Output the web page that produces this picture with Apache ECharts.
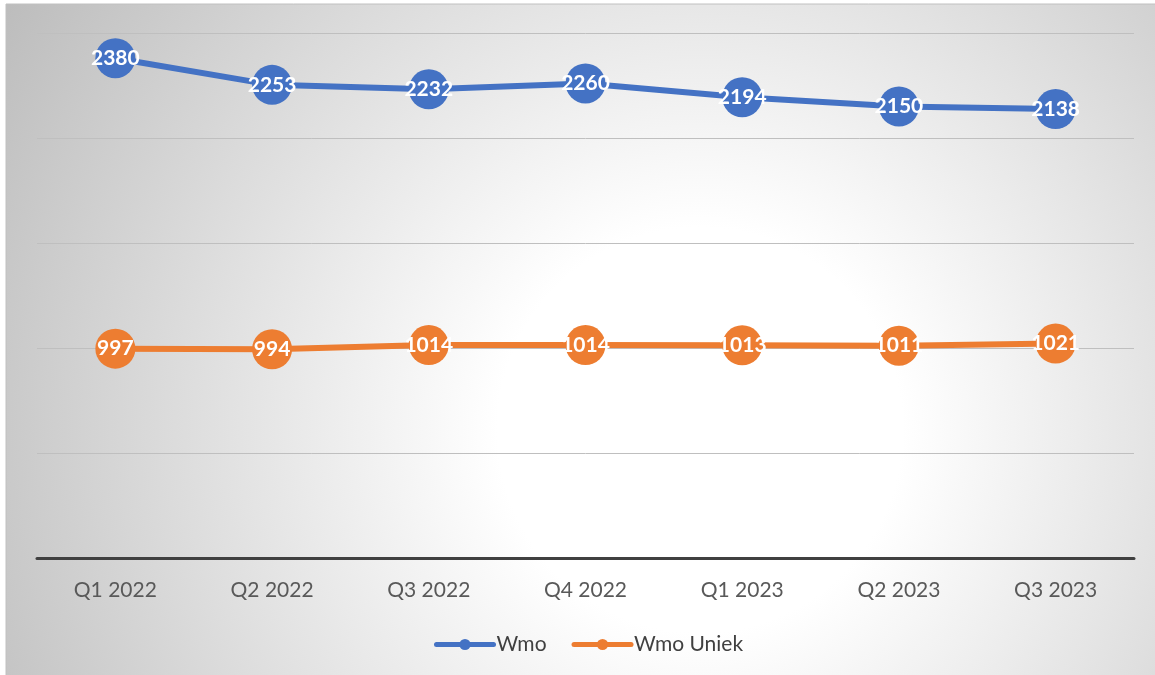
<!DOCTYPE html>
<html>
<head>
<meta charset="utf-8">
<script src="https://cdn.jsdelivr.net/npm/echarts@6/dist/echarts.min.js"></script>
<style>
  html, body { margin: 0; padding: 0; background: #ffffff; }
  #chart { width: 1155px; height: 675px; }
</style>
</head>
<body>
<div id="chart"></div>
<script>
let quarters = ['Q1 2022', 'Q2 2022', 'Q3 2022', 'Q4 2022', 'Q1 2023', 'Q2 2023', 'Q3 2023'];
let wmo = [2380, 2253, 2232, 2260, 2194, 2150, 2138];
let wmoUniek = [997, 994, 1014, 1014, 1013, 1011, 1021];

let chart = echarts.init(document.getElementById('chart'));

let labelStyle = {
    show: true,
    position: 'inside',
    color: '#ffffff',
    fontFamily: 'Lato',
    fontWeight: 'bold',
    fontSize: 21
};

let option = {
    animation: false,
    textStyle: { fontFamily: 'Lato' },
    graphic: [
        {
            type: 'rect',
            z: -10,
            silent: true,
            shape: { x: 6, y: 4, width: 1152, height: 675 },
            style: {
                fill: {
                    type: 'radial',
                    x: 700, y: 430, r: 810,
                    global: true,
                    colorStops: [
                        { offset: 0, color: '#ffffff' },
                        { offset: 0.25, color: '#ffffff' },
                        { offset: 1, color: '#bdbdbd' }
                    ]
                },
                stroke: '#c0c0c0',
                lineWidth: 1
            }
        }
    ],
    grid: {
        left: 37,
        right: 21,
        top: 33,
        bottom: 117
    },
    legend: {
        bottom: 15,
        left: 429,
        itemWidth: 57,
        itemHeight: 14,
        itemGap: 25,
        lineStyle: { width: 5, cap: 'round' },
        textStyle: { fontSize: 21, color: '#404040', fontFamily: 'Lato', padding: [0, 0, 0, -2] },
        data: ['Wmo', 'Wmo Uniek']
    },
    xAxis: {
        type: 'category',
        data: quarters,
        boundaryGap: true,
        axisLine: { lineStyle: { color: '#404040', width: 3 } },
        axisTick: { show: false },
        axisLabel: { fontSize: 21, color: '#595959', margin: 22 }
    },
    yAxis: {
        type: 'value',
        min: 0,
        max: 2500,
        interval: 500,
        axisLabel: { show: false },
        axisLine: { show: false },
        axisTick: { show: false },
        splitLine: { lineStyle: { color: '#bfbfbf', width: 1 } }
    },
    series: [
        {
            name: 'Wmo',
            type: 'line',
            data: wmo,
            symbol: 'circle',
            symbolSize: 40,
            color: '#4472c4',
            lineStyle: { width: 6, color: '#4472c4', cap: 'round' },
            itemStyle: { color: '#4472c4' },
            label: labelStyle
        },
        {
            name: 'Wmo Uniek',
            type: 'line',
            data: wmoUniek,
            symbol: 'circle',
            symbolSize: 40,
            color: '#ed7d31',
            lineStyle: { width: 6, color: '#ed7d31', cap: 'round' },
            itemStyle: { color: '#ed7d31' },
            label: labelStyle
        }
    ]
};
option && chart.setOption(option);
</script>
</body>
</html>
